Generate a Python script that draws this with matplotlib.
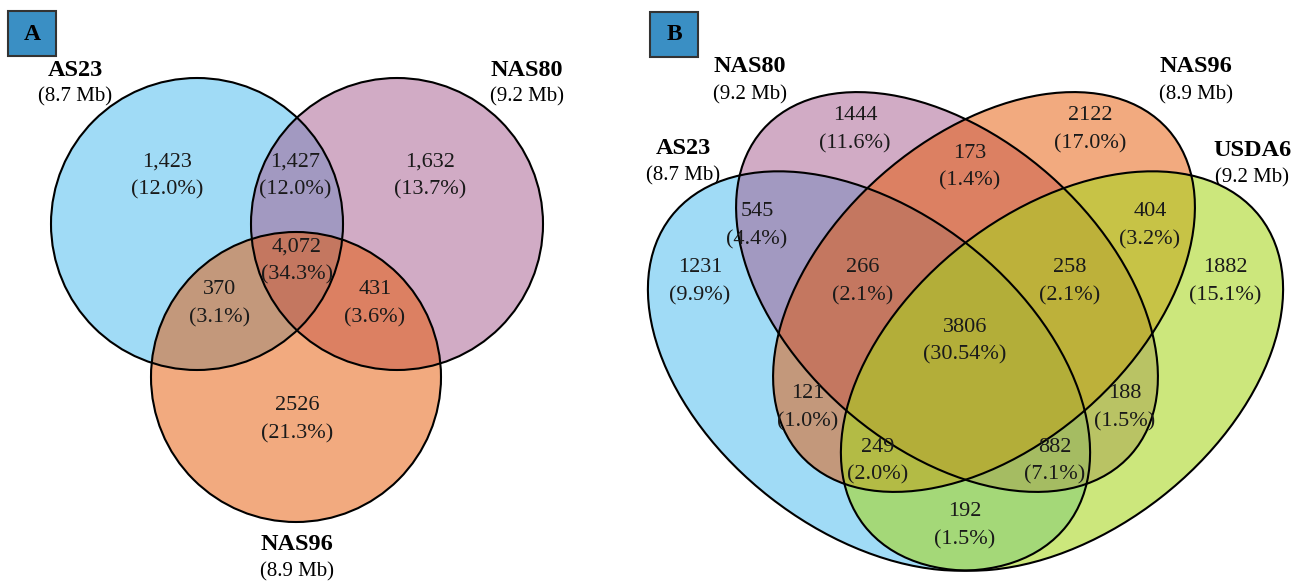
import matplotlib.pyplot as plt
from matplotlib.patches import Circle, Ellipse, Rectangle
from matplotlib.colors import to_rgba

plt.rcParams['font.family'] = ['Liberation Serif', 'DejaVu Serif']

# ---- data ----
# panel A: three genomes
sets_a = ['AS23', 'NAS80', 'NAS96']
sizes_a = ['(8.7 Mb)', '(9.2 Mb)', '(8.9 Mb)']
counts_a = ['1,423', '1,427', '1,632', '4,072', '370', '431', '2526']
pcts_a = ['12.0%', '12.0%', '13.7%', '34.3%', '3.1%', '3.6%', '21.3%']

# panel B: four genomes
sets_b = ['AS23', 'NAS80', 'NAS96', 'USDA6']
sizes_b = ['(8.7 Mb)', '(9.2 Mb)', '(8.9 Mb)', '(9.2 Mb)']
counts_b = [1444, 2122, 173, 545, 404, 1231, 1882, 266, 258, 3806, 121, 188, 249, 882, 192]
pcts_b = ['11.6%', '17.0%', '1.4%', '4.4%', '3.2%', '9.9%', '15.1%', '2.1%', '2.1%',
          '30.54%', '1.0%', '1.5%', '2.0%', '7.1%', '1.5%']

# fill colours and their alpha
set_colors = {'AS23': ('#43B9EF', 0.5), 'NAS80': ('#A5598D', 0.5),
              'NAS96': ('#E75701', 0.5), 'USDA6': ('#A8D61E', 0.58)}

# ---- layout (pixel coordinates) ----
circles_a = [(197, 224, 146), (397, 224, 146), (296, 377, 145)]
name_pos_a = [(75, 70), (527, 70), (297, 545)]
cnt_pos_a = [(167, 176), (295, 176), (430, 176), (297, 261), (220, 304), (375, 304), (297, 420)]

ellipses_b = {  # cx, cy, width, height, angle
    'AS23': (869, 371, 502, 321, 38),
    'NAS80': (947, 292, 491, 311, 41.4),
    'NAS96': (984, 292, 491, 311, -41.4),
    'USDA6': (1062, 371, 502, 321, -38),
}
name_pos_b = [(683, 148), (750, 67), (1196, 67), (1252, 150)]
cnt_pos_b = [(855, 130), (1090, 130), (970, 167), (757, 226), (1150, 226), (700, 282),
             (1225, 282), (863, 282), (1070, 282), (965, 341), (808, 408), (1125, 408),
             (878, 461), (1055, 461), (965, 526)]

fig = plt.figure(figsize=(12.96, 5.82), dpi=100)
ax = fig.add_axes([0, 0, 1, 1])
ax.set_xlim(0, 1296)
ax.set_ylim(582, 0)
ax.axis('off')

# panel A circles
for name, (cx, cy, r) in zip(sets_a, circles_a):
    col, al = set_colors[name]
    ax.add_patch(Circle((cx, cy), r, facecolor=to_rgba(col, al), edgecolor='none'))
for cx, cy, r in circles_a:
    ax.add_patch(Circle((cx, cy), r, fill=False, edgecolor='black', lw=1.5))

# panel B ellipses
for name in sets_b:
    cx, cy, w, h, ang = ellipses_b[name]
    col, al = set_colors[name]
    ax.add_patch(Ellipse((cx, cy), w, h, angle=ang,
                         facecolor=to_rgba(col, al), edgecolor='none'))
for name in sets_b:
    cx, cy, w, h, ang = ellipses_b[name]
    ax.add_patch(Ellipse((cx, cy), w, h, angle=ang, fill=False, edgecolor='black', lw=1.5))

# labels
for name, size, (x, y) in zip(sets_a, sizes_a, name_pos_a):
    ax.text(x, y, name, ha='center', va='center', fontsize=17.5, fontweight='bold')
    ax.text(x, y + 27, size, ha='center', va='center', fontsize=15)
for name, size, (x, y) in zip(sets_b, sizes_b, name_pos_b):
    ax.text(x, y, name, ha='center', va='center', fontsize=17.5, fontweight='bold')
    ax.text(x, y + 28, size, ha='center', va='center', fontsize=15)

for c, p, (x, y) in zip(counts_a + [str(v) for v in counts_b], pcts_a + pcts_b,
                        cnt_pos_a + cnt_pos_b):
    ax.text(x, y - 14, c, ha='center', va='center', fontsize=16, color='#1a1a1a')
    ax.text(x, y + 14, f'({p})', ha='center', va='center', fontsize=16, color='#1a1a1a')

# panel letters
for letter, (x, y) in zip(['A', 'B'], [(8, 11), (650, 12)]):
    ax.add_patch(Rectangle((x, y), 48, 45, facecolor='#3A8FC4', edgecolor='#333333', lw=1.5))
    ax.text(x + 24, y + 23, letter, ha='center', va='center', fontsize=17, fontweight='bold')

fig.savefig('out.png', dpi=100)
